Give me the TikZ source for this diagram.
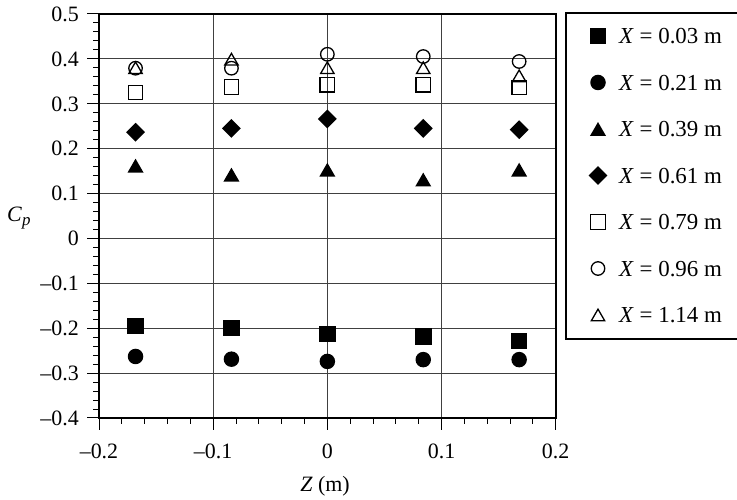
\documentclass[tikz,border=0pt]{standalone}
\usepackage{fontspec}
\setmainfont{Liberation Serif}
\usetikzlibrary{shapes.geometric}
\begin{document}
\begin{tikzpicture}[x=1bp,y=1bp,
  lbl/.style={font=\fontsize{22}{26}\selectfont, inner sep=0pt},
  leglbl/.style={font=\fontsize{23}{27}\selectfont, inner sep=0pt},
  gridline/.style={draw=black!75, line width=0.9bp},
  tickline/.style={draw=black, line width=1bp},
  fsq/.style={rectangle, fill=black, minimum size=16.5bp, inner sep=0pt},
  fci/.style={circle, fill=black, minimum size=15.5bp, inner sep=0pt},
  ftr/.style={regular polygon, regular polygon sides=3, fill=black, minimum size=18.5bp, inner sep=0pt, yshift=-2.3bp},
  fdi/.style={diamond, fill=black, minimum width=19bp, minimum height=19bp, inner sep=0pt},
  osq/.style={rectangle, draw=black, line width=1.3bp, minimum size=14.5bp, inner sep=0pt},
  oci/.style={circle, draw=black, line width=1.3bp, minimum size=13.5bp, inner sep=0pt},
  otr/.style={regular polygon, regular polygon sides=3, draw=black, line width=1.3bp, minimum size=15.5bp, inner sep=0pt, yshift=-1.9bp},
]
\useasboundingbox (0,0) rectangle (737,500);
\clip (0,0) rectangle (737,500);

\begin{scope}[x=1141.7bp, y=449bp, shift={(327.34bp,261.6bp)}]
  % grid
  \foreach \i in {-3,...,4} \draw[gridline] (-0.2,\i/10) -- (0.2,\i/10);
  \foreach \i in {-1,...,1} \draw[gridline] (\i/10,-0.4) -- (\i/10,0.5);
  % ticks
  \foreach \i in {-20,...,25} \draw[tickline] (-0.2,\i/50) -- ++(-6bp,0);
  \foreach \i in {-4,...,5} \draw[tickline] (-0.2,\i/10) -- ++(-12bp,0);
  \foreach \i in {-10,...,10} \draw[tickline] (\i/50,-0.4) -- ++(0,-6.5bp);
  \foreach \i in {-2,...,2} \draw[tickline] (\i/10,-0.4) -- ++(0,-12.5bp);
  % frame
  \draw[line width=2bp] (-0.2,-0.4) rectangle (0.2,0.5);
  % tick labels
  \foreach \v/\t [count=\k] in {0.5/0.5,0.4/0.4,0.3/0.3,0.2/0.2,0.1/0.1,0/0,-0.1/--0.1,-0.2/--0.2,-0.3/--0.3,-0.4/--0.4}
    \node[lbl, anchor=base east, xshift=-20bp, yshift=-7.4bp] (yl\k) at (-0.2,\v) {\t};
  \foreach \v/\t [count=\k] in {-0.2/--0.2,-0.1/--0.1,0/0,0.1/0.1,0.2/0.2}
    \node[lbl, anchor=base, yshift=-40.3bp] (xl\k) at (\v,-0.4) {\t};
  % data
  \foreach \z/\c [count=\k] in {-0.168/-0.195,-0.084/-0.200,0/-0.213,0.084/-0.219,0.168/-0.228}
    \node[fsq] (sa\k) at (\z,\c) {};
  \foreach \z/\c [count=\k] in {-0.168/-0.263,-0.084/-0.269,0/-0.274,0.084/-0.270,0.168/-0.270}
    \node[fci] (sb\k) at (\z,\c) {};
  \foreach \z/\c [count=\k] in {-0.168/0.162,-0.084/0.142,0/0.153,0.084/0.131,0.168/0.153}
    \node[ftr] (sc\k) at (\z,\c) {};
  \foreach \z/\c [count=\k] in {-0.168/0.2365,-0.084/0.245,0/0.266,0.084/0.245,0.168/0.242}
    \node[fdi] (sd\k) at (\z,\c) {};
  \foreach \z/\c [count=\k] in {-0.168/0.325,-0.084/0.337,0/0.342,0.084/0.342,0.168/0.336}
    \node[osq] (se\k) at (\z,\c) {};
  \foreach \z/\c [count=\k] in {-0.168/0.379,-0.084/0.379,0/0.410,0.084/0.405,0.168/0.394}
    \node[oci] (sf\k) at (\z,\c) {};
  \foreach \z/\c [count=\k] in {-0.168/0.380,-0.084/0.399,0/0.380,0.084/0.380,0.168/0.362}
    \node[otr] (sg\k) at (\z,\c) {};
\end{scope}

% axis titles
\node[lbl, anchor=base] (xtitle) at (325,8.3) {\textit{Z} (m)};
\node[lbl, anchor=base west] (ytitle) at (7,278.3) {\textit{C}\raisebox{-4bp}{\fontsize{17}{17}\selectfont\textit{p}}};

% legend
\draw[line width=2bp] (566,161) rectangle (760,486.7);
\foreach \s/\t/\y [count=\k] in {fsq/0.03/464,fci/0.21/417.5,ftr/0.39/371,fdi/0.61/324.5,osq/0.79/278,oci/0.96/231.5,otr/1.14/185}{
  \node[\s] (lm\k) at (598,\y) {};
  \node[leglbl, anchor=base west] (lt\k) at (619,\y-7.7) {\textit{X} = \t\ m};
}
\end{tikzpicture}
\end{document}
